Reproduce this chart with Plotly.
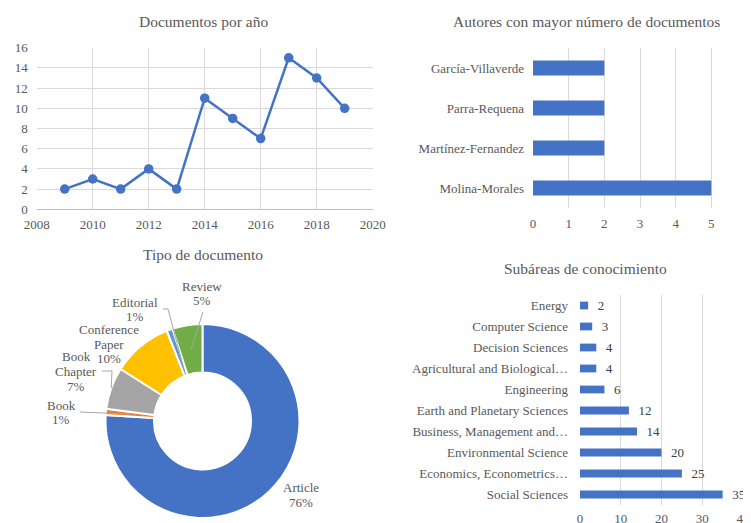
import math
import plotly.graph_objects as go

# ---------------- data ----------------
years = [2009, 2010, 2011, 2012, 2013, 2014, 2015, 2016, 2017, 2018, 2019]
docs_per_year = [2, 3, 2, 4, 2, 11, 9, 7, 15, 13, 10]

authors = ["Molina-Morales", "Martínez-Fernandez", "Parra-Requena", "García-Villaverde"]
author_docs = [5, 2, 2, 2]

doc_types = ["Article", "Book", "Book Chapter", "Conference Paper", "Editorial", "Review"]
doc_type_pct = [76, 1, 7, 10, 1, 5]

subareas = ["Social Sciences", "Economics, Econometrics…", "Environmental Science",
            "Business, Management and…", "Earth and Planetary Sciences", "Engineering",
            "Agricultural and Biological…", "Decision Sciences", "Computer Science", "Energy"]
subarea_docs = [35, 25, 20, 14, 12, 6, 4, 4, 3, 2]

# ---------------- style ----------------
PAGE_W, PAGE_H = 751, 523
OFF = 8  # default body margin of the html page
W, H = PAGE_W - OFF, PAGE_H - OFF
FONT = "Liberation Serif, Times New Roman, DejaVu Serif, serif"
GREY = "#595959"
GRID = "#D9D9D9"
BLUE = "#4472C4"
LEADER = "#A6A6A6"
pie_colors = ["#4472C4", "#ED7D31", "#A5A5A5", "#FFC000", "#5B9BD5", "#70AD47"]
TF = dict(family=FONT, size=13, color=GREY)
TITLE_F = dict(family=FONT, size=15.5, color=GREY)
LINE_STEP = 14.7


def fx(p):
    """page pixel x -> paper fraction"""
    return (p - OFF) / W


def fy(p):
    """page pixel y -> paper fraction"""
    return 1 - (p - OFF) / H


fig = go.Figure()

# line chart
fig.add_trace(go.Scatter(x=years, y=docs_per_year, mode="lines+markers",
                         line=dict(color=BLUE, width=2.5),
                         marker=dict(color=BLUE, size=9.5),
                         xaxis="x", yaxis="y", cliponaxis=False, showlegend=False))

# authors bar chart
fig.add_trace(go.Bar(x=author_docs, y=authors, orientation="h", width=0.37,
                     marker=dict(color=BLUE, line=dict(width=0)), xaxis="x2", yaxis="y2",
                     showlegend=False))

# subareas bar chart
fig.add_trace(go.Bar(x=subarea_docs, y=subareas, orientation="h", width=0.37,
                     marker=dict(color=BLUE, line=dict(width=0)), text=subarea_docs,
                     texttemplate="\u00a0\u00a0%{x}", textposition="outside",
                     constraintext="none", cliponaxis=False,
                     textfont=dict(family=FONT, size=13, color="#404040"),
                     xaxis="x3", yaxis="y3", showlegend=False))

# donut
PIE_CX, PIE_CY, PIE_R = 202.5, 421.0, 97.0
fig.add_trace(go.Pie(labels=doc_types, values=doc_type_pct, hole=0.5, sort=False,
                     direction="clockwise", rotation=0, textinfo="none", automargin=False,
                     marker=dict(colors=pie_colors, line=dict(color="white", width=2)),
                     domain=dict(x=[fx(PIE_CX - PIE_R), fx(PIE_CX + PIE_R)],
                                 y=[fy(PIE_CY + PIE_R), fy(PIE_CY - PIE_R)]),
                     showlegend=False))

# donut labels: centre offsets from pie centre (px), leader tail / elbow offsets, tip radius
label_offsets = [(98.5, 74), (-141.5, -8.5), (-126.5, -49.5), (-93.5, -77), (-68, -111.5), (-0.5, -127.5)]
leader_tail = [None, (-122.5, -9), (-100.5, -50), None, (-39.5, -112), (0.5, -109)]
leader_elbow = [None, None, (-90.5, -50), None, (-34.5, -112), None]
tip_radius = [None, 0.75, 1.0, None, 0.55, 0.75]

annotations = []
shapes = []
total = sum(doc_type_pct)
cum = 0.0
for name, v, (dx, dy), tail, elbow, tr in zip(doc_types, doc_type_pct, label_offsets,
                                                leader_tail, leader_elbow, tip_radius):
    frac_mid = (cum + v / 2) / total
    cum += v
    pct = round(100 * v / total)
    lines = name.split(" ") + [f"{pct}%"]
    lx, ly = PIE_CX + dx, PIE_CY + dy
    n = len(lines)
    for i, ln in enumerate(lines):
        yy = ly + (i - (n - 1) / 2) * LINE_STEP
        annotations.append(dict(x=fx(lx), y=fy(yy), xref="paper", yref="paper", text=ln,
                                showarrow=False, font=TF, xanchor="center", yanchor="middle"))
    if tr is not None:
        th = 2 * math.pi * frac_mid
        tx = PIE_CX + PIE_R * tr * math.sin(th)
        ty = PIE_CY - PIE_R * tr * math.cos(th)
        pts = [(PIE_CX + tail[0], PIE_CY + tail[1])]
        if elbow is not None:
            pts.append((PIE_CX + elbow[0], PIE_CY + elbow[1]))
        pts.append((tx, ty))
        path = "M " + " L ".join(f"{fx(px):.5f},{fy(py):.5f}" for px, py in pts)
        shapes.append(dict(type="path", path=path, xref="paper", yref="paper",
                           line=dict(color=LEADER, width=1)))

# titles
for t, x, y in [("Documentos por año", 203, 21),
                ("Autores con mayor número de documentos", 586, 21),
                ("Tipo de documento", 203, 255),
                ("Subáreas de conocimiento", 585, 268)]:
    annotations.append(dict(x=fx(x), y=fy(y), xref="paper", yref="paper", text=t,
                            showarrow=False, font=TITLE_F, xanchor="center", yanchor="middle"))

common = dict(automargin=False, ticks="", tickfont=TF, zeroline=False,
              ticklabeloverflow="allow")

fig.update_layout(
    width=W, height=H, margin=dict(l=0, r=0, t=0, b=0, autoexpand=False),
    paper_bgcolor="white", plot_bgcolor="white",
    font=dict(family=FONT, size=13, color=GREY),
    annotations=annotations, shapes=shapes,
    xaxis=dict(domain=[fx(36.7), fx(372.7)], range=[2008, 2020], tick0=2008, dtick=2,
               showgrid=True, gridcolor=GRID, showline=True, linecolor="#BFBFBF",
               anchor="y", ticklabelstandoff=3, **common),
    yaxis=dict(domain=[fy(209.3), fy(47.7)], range=[0, 16], dtick=2, showgrid=True,
               gridcolor=GRID, showline=False, anchor="x", ticklabelstandoff=8, **common),
    xaxis2=dict(domain=[fx(533), fx(747)], range=[0, 6], dtick=1, showgrid=True,
                gridcolor=GRID, showline=False, anchor="y2", ticklabelstandoff=6, **common),
    yaxis2=dict(domain=[fy(208), fy(48)], showgrid=False, showline=False, anchor="x2",
                ticklabelstandoff=8, **common),
    xaxis3=dict(domain=[fx(580), fx(743)], range=[0, 40], dtick=10, showgrid=True,
                gridcolor=GRID, showline=False, anchor="y3", ticklabelstandoff=4, **common),
    yaxis3=dict(domain=[fy(505), fy(295)], showgrid=False, showline=False, anchor="x3",
                ticklabelstandoff=11, **common),
)

fig.write_html("out.html")
